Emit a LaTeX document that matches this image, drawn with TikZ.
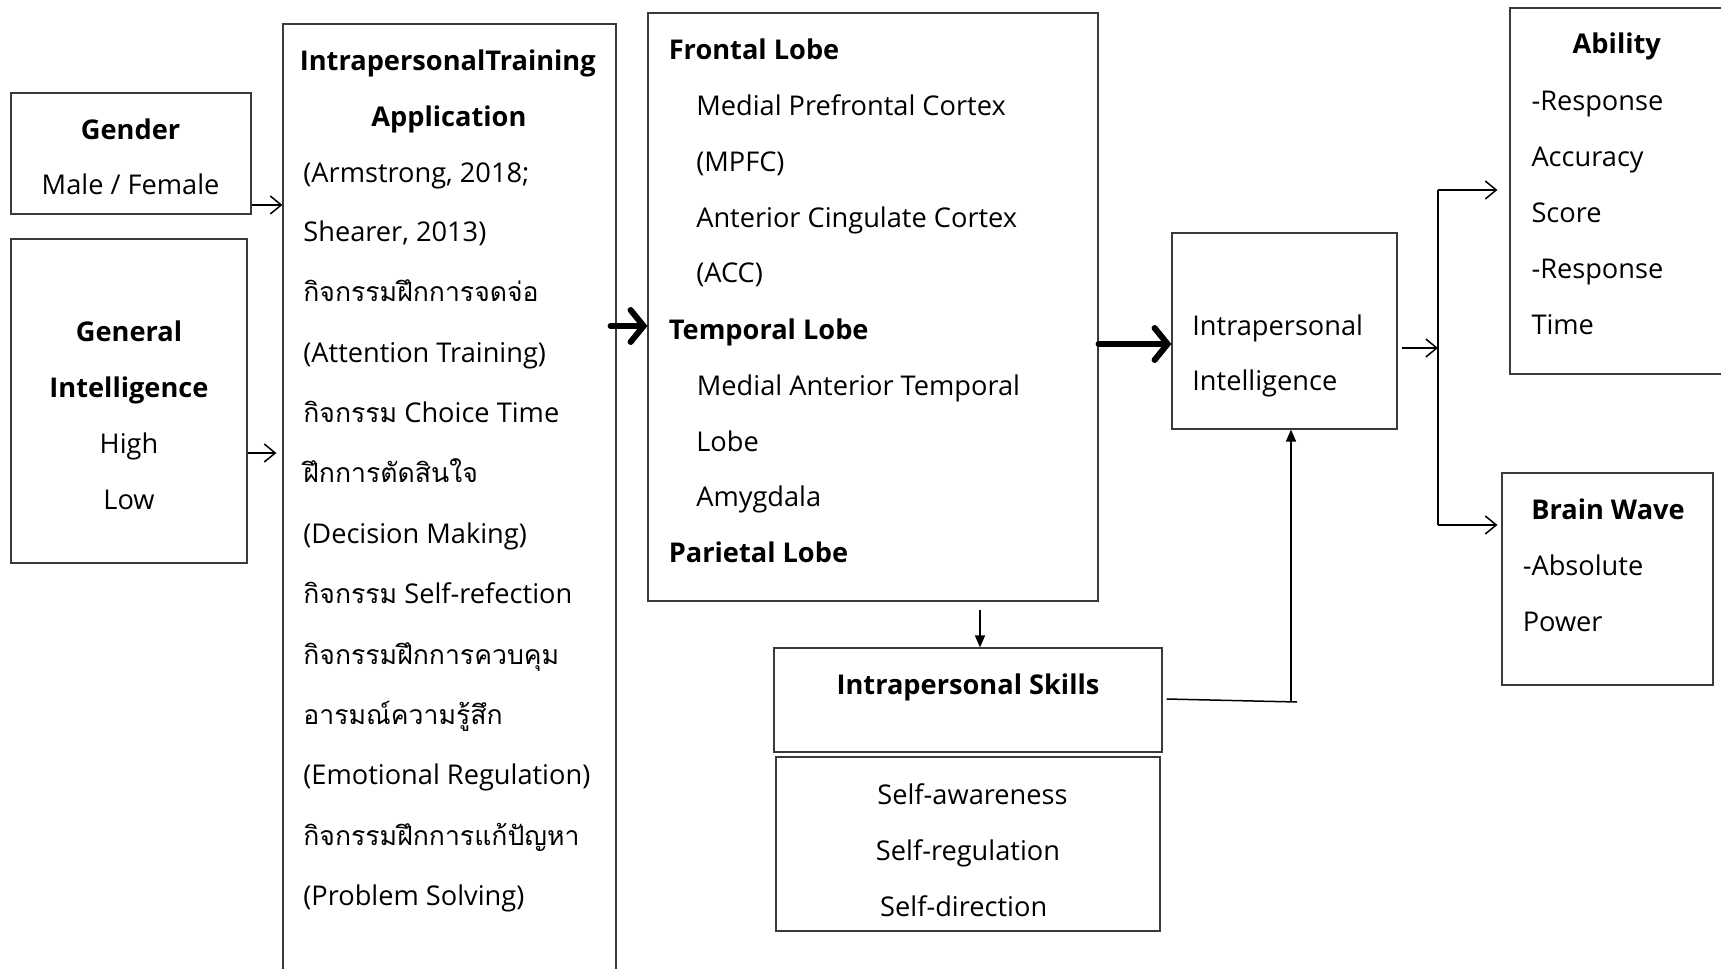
\documentclass[tikz,border=0pt]{standalone}
\usepackage{fontspec}
\setmainfont{Open Sans}
\newfontfamily\thaiface[Script=Thai]{Loma}
\newcommand\thai{\thaiface\fontsize{13.3}{15}\selectfont}
\usetikzlibrary{arrows.meta,fit,calc}
\definecolor{frame}{HTML}{3A3A3A}
\tikzset{
  box/.style={draw=frame, line width=0.55pt, inner sep=0pt, fit={#1}},
  txtbase/.style={inner sep=0pt, yshift=-2.3pt, font=\fontsize{13.6}{15}\selectfont},
  lbl/.style={txtbase, anchor=mid west},
  clbl/.style={txtbase, anchor=mid},
  hlbl/.style={txtbase, anchor=mid west, font=\fontsize{13.6}{15}\selectfont\bfseries},
  chlbl/.style={txtbase, anchor=mid, font=\fontsize{13.6}{15}\selectfont\bfseries},
  openarr/.style={line width=0.75pt, -{Straight Barb[length=5.5pt,width=9pt]}},
  boldarr/.style={line width=3pt, line cap=round, -{Straight Barb[length=6.5pt,width=16pt,line cap=round]}},
  filledarr/.style={line width=0.75pt, -{Triangle[length=6pt,width=5pt]}},
  conn/.style={line width=0.75pt},
}
\begin{document}
\begin{tikzpicture}[x=0.5pt,y=-0.5pt]
\useasboundingbox (0,0) rectangle (1721,969);

% boxes
\node[box={(11,93) (251,214)}] (gender) {};
\node[box={(11,239) (247,563)}] (gi) {};
\node[box={(283,24) (616,990)}] (train) {};
\node[box={(648,13) (1098,601)}] (lobe) {};
\node[box={(1172,233) (1397,429)}] (intel) {};
\node[box={(1510,8) (1735,374)}] (ability) {};
\node[box={(1502,473) (1713,685)}] (brain) {};
\node[box={(774,648) (1162,752)}] (skills) {};
\node[box={(776,757) (1160,931)}] (selfbox) {};

% gender
\node[chlbl] (g1) at (130.6,129.5) {Gender};
\node[clbl]  (g2) at (130.6,184.4) {Male / Female};

% general intelligence
\node[chlbl] (gi1) at (129,331.5) {General};
\node[chlbl] (gi2) at (129,387.5) {Intelligence};
\node[clbl]  (gi3) at (129,443.4) {High};
\node[clbl]  (gi4) at (129,499.4) {Low};

% training application
\node[chlbl] (t1) at (447.8,60.4) {IntrapersonalTraining};
\node[chlbl] (t2) at (448.9,116.3) {Application};
\node[lbl] (t3)  at (303,172.3) {(Armstrong, 2018;};
\node[lbl] (t4)  at (303,231.6) {Shearer, 2013)};
\node[lbl] (t5)  at (303,292.0) {\thai กิจกรรมฝึกการจดจ่อ};
\node[lbl] (t6)  at (303,352.3) {(Attention Training)};
\node[lbl] (t7)  at (303,412.7) {{\thai กิจกรรม} Choice Time};
\node[lbl] (t8)  at (303,473.0) {\thai ฝึกการตัดสินใจ};
\node[lbl] (t9)  at (303,533.4) {(Decision Making)};
\node[lbl] (t10) at (303,593.8) {{\thai กิจกรรม} Self-refection};
\node[lbl] (t11) at (303,654.2) {\thai กิจกรรมฝึกการควบคุม};
\node[lbl] (t12) at (303,714.5) {\thai อารมณ์ความรู้สึก};
\node[lbl] (t13) at (303,774.9) {(Emotional Regulation)};
\node[lbl] (t14) at (303,835.3) {\thai กิจกรรมฝึกการแก้ปัญหา};
\node[lbl] (t15) at (303,895.6) {(Problem Solving)};

% brain regions
\node[hlbl] (l1)  at (668.4,49.4)  {Frontal Lobe};
\node[lbl]  (l2)  at (695.9,105.4) {Medial Prefrontal Cortex};
\node[lbl]  (l3)  at (695.9,161.3) {(MPFC)};
\node[lbl]  (l4)  at (695.9,217.3) {Anterior Cingulate Cortex};
\node[lbl]  (l5)  at (695.9,272.2) {(ACC)};
\node[hlbl] (l6)  at (668.4,329.3) {Temporal Lobe};
\node[lbl]  (l7)  at (696.5,385.3) {Medial Anterior Temporal};
\node[lbl]  (l8)  at (695.9,441.2) {Lobe};
\node[lbl]  (l9)  at (695.9,496.1) {Amygdala};
\node[hlbl] (l10) at (668.4,552.1) {Parietal Lobe};

% intrapersonal intelligence
\node[lbl] (i1) at (1192,326)   {Intrapersonal};
\node[lbl] (i2) at (1192,380.9) {Intelligence};

% ability
\node[chlbl] (a1) at (1616.8,43.9) {Ability};
\node[lbl] (a2) at (1531.1,101)   {-Response};
\node[lbl] (a3) at (1531.1,157)   {Accuracy};
\node[lbl] (a4) at (1531.1,212.9) {Score};
\node[lbl] (a5) at (1531.1,268.9) {-Response};
\node[lbl] (a6) at (1531.1,324.9) {Time};

% brain wave
\node[chlbl] (b1) at (1608,509.3) {Brain Wave};
\node[lbl] (b2) at (1522.4,565.3) {-Absolute};
\node[lbl] (b3) at (1522.4,621.2) {Power};

% skills
\node[chlbl] (s0) at (968,684.9) {Intrapersonal Skills};
\node[clbl] (s1) at (972.5,794.7) {Self-awareness};
\node[clbl] (s2) at (968,850.6)   {Self-regulation};
\node[clbl] (s3) at (963.7,906.6) {Self-direction};

% junction points
\coordinate (jskill) at (1291,702);
\coordinate (jskillend) at (1297,702);
\coordinate (jtop) at (1438,190);
\coordinate (jbot) at (1438,525);

% connectors
\draw[openarr] (gender.east |- 0,205) -- (train.west |- 0,205);
\draw[openarr, shorten >=3pt] (gi.east |- 0,453) -- (train.west |- 0,453);
\draw[boldarr] ($(train.east |- 0,326)+(-6,0)$) -- (lobe.west |- 0,326);
\draw[boldarr] (lobe.east |- 0,344) -- (intel.west |- 0,344);
\draw[filledarr] ($(lobe.south -| 980,0)+(0,8)$) -- (skills.north -| 980,0);
\draw[conn] ($(skills.east |- 0,699)+(4,0)$) -- (jskillend);
\draw[filledarr] (jskill) -- (intel.south -| jskill);
\draw[openarr] ($(intel.east |- 0,348)+(4,0)$) -- (jtop |- 0,348);
\draw[conn] (jtop) -- (jbot);
\draw[openarr] (jtop) -- ($(ability.west |- jtop)+(-12,0)$);
\draw[openarr] (jbot) -- ($(brain.west |- jbot)+(-4,0)$);
\end{tikzpicture}
\end{document}
